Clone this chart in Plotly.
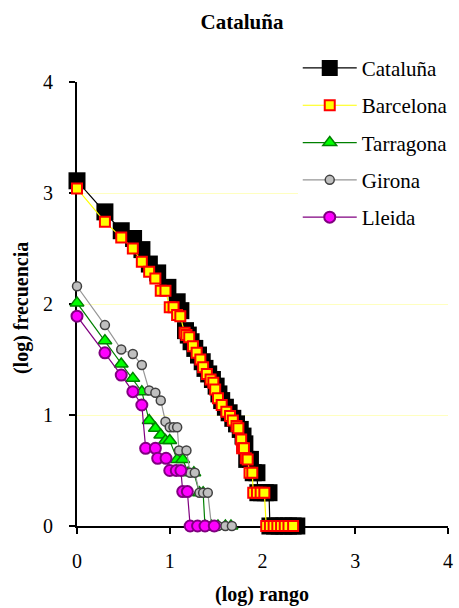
import plotly.graph_objects as go

# Rank-frequency data in log10 units: x = log(rank), y = log(frequency)
cat_x = [0, 0.301, 0.477, 0.61, 0.70, 0.78, 0.87, 0.98, 1.08, 1.12,
         1.17, 1.20, 1.23, 1.27, 1.31, 1.35, 1.38, 1.42, 1.46, 1.50,
         1.53, 1.56, 1.60, 1.64, 1.68, 1.72, 1.76, 1.79, 1.81, 1.83,
         1.87, 1.90, 1.94, 1.95, 1.99, 2.03, 2.07, 2.08, 2.13, 2.18,
         2.23, 2.28, 2.33, 2.37]
cat_y = [3.11, 2.83, 2.66, 2.59, 2.49, 2.36, 2.28, 2.15, 2.02, 1.94,
         1.76, 1.72, 1.66, 1.60, 1.54, 1.48, 1.42, 1.37, 1.32, 1.26,
         1.19, 1.13, 1.07, 1.02, 0.97, 0.92, 0.87, 0.81, 0.74, 0.60,
         0.60, 0.48, 0.48, 0.30, 0.30, 0.30, 0.30, 0, 0, 0,
         0, 0, 0, 0]

bcn_x = [0, 0.301, 0.477, 0.602, 0.699, 0.778, 0.845, 0.903, 0.954, 1.0,
         1.041, 1.079, 1.114, 1.16, 1.18, 1.21, 1.25, 1.29, 1.33, 1.36,
         1.40, 1.44, 1.47, 1.49, 1.52, 1.56, 1.61, 1.65, 1.68, 1.72,
         1.74, 1.77, 1.78, 1.80, 1.82, 1.84, 1.86, 1.89, 1.90, 1.94,
         1.98, 2.02, 2.04, 2.08, 2.12, 2.16, 2.20, 2.24, 2.28, 2.33]
bcn_y = [3.04, 2.74, 2.60, 2.50, 2.38, 2.29, 2.23, 2.12, 2.12, 1.97,
         1.97, 1.90, 1.89, 1.74, 1.72, 1.70, 1.62, 1.56, 1.50, 1.43,
         1.37, 1.32, 1.29, 1.23, 1.15, 1.09, 1.03, 0.99, 0.95, 0.90,
         0.88, 0.78, 0.70, 0.70, 0.61, 0.60, 0.48, 0.48, 0.30, 0.30,
         0.30, 0.30, 0, 0, 0, 0, 0, 0, 0, 0]

tar_x = [0, 0.301, 0.477, 0.602, 0.699, 0.778, 0.845, 0.903, 0.954, 1.0,
         1.08, 1.14, 1.20, 1.26, 1.32, 1.36, 1.38, 1.45, 1.52, 1.60, 1.66]
tar_y = [2.01, 1.67, 1.46, 1.33, 1.21, 0.95, 0.88, 0.82, 0.77, 0.77,
         0.60, 0.60, 0.48, 0.48, 0.30, 0.30, 0, 0, 0, 0, 0]

gir_x = [0, 0.301, 0.477, 0.602, 0.699, 0.778, 0.845, 0.903, 0.954, 1.0,
         1.04, 1.08, 1.10, 1.18, 1.22, 1.27, 1.32, 1.36, 1.41, 1.45,
         1.52, 1.60, 1.67]
gir_y = [2.16, 1.81, 1.59, 1.55, 1.45, 1.22, 1.20, 1.13, 0.94, 0.89,
         0.89, 0.89, 0.68, 0.68, 0.48, 0.48, 0.30, 0.30, 0.30, 0,
         0, 0, 0]

lle_x = [0, 0.301, 0.477, 0.602, 0.699, 0.74, 0.845, 0.87, 0.96, 1.0,
         1.07, 1.12, 1.14, 1.19, 1.22, 1.30, 1.38, 1.48]
lle_y = [1.89, 1.56, 1.36, 1.21, 1.09, 0.70, 0.70, 0.61, 0.61, 0.50,
         0.50, 0.50, 0.31, 0.31, 0, 0, 0, 0]

names = ["Cataluña", "Barcelona", "Tarragona", "Girona", "Lleida"]
xs = [cat_x, bcn_x, tar_x, gir_x, lle_x]
ys = [cat_y, bcn_y, tar_y, gir_y, lle_y]

styles = [
    dict(symbol="square", size=17, fill="#000000", edge="#000000", edge_w=0, line="#000000"),
    dict(symbol="square", size=10, fill="#FFFF00", edge="#FF0000", edge_w=2, line="#FFFF00"),
    dict(symbol="triangle-up", size=12, fill="#00FF00", edge="#008000", edge_w=1.5, line="#008000"),
    dict(symbol="circle", size=9, fill="#C0C0C0", edge="#404040", edge_w=1.5, line="#969696"),
    dict(symbol="circle", size=11, fill="#FF00FF", edge="#800080", edge_w=2, line="#800080"),
]

SERIF = "Liberation Serif, Times New Roman, DejaVu Serif, serif"

fig = go.Figure()
for i, (name, x, y, st) in enumerate(zip(names, xs, ys, styles)):
    fig.add_trace(go.Scatter(
        x=x, y=y, name=name, mode="lines+markers",
        legendgroup=str(i), cliponaxis=False,
        line=dict(color=st["line"], width=1.2),
        marker=dict(symbol=st["symbol"], size=st["size"], color=st["fill"],
                    line=dict(color=st["edge"], width=st["edge_w"])),
    ))

axis_common = dict(
    range=[0, 4], tickvals=[0, 1, 2, 3, 4],
    showline=True, linecolor="black", linewidth=2,
    ticks="outside", ticklen=6, tickwidth=2, tickcolor="black",
    zeroline=False, tickfont=dict(size=20, family=SERIF),
    layer="below traces",
)
fig.update_xaxes(**axis_common, showgrid=False, ticklabelstandoff=10)
fig.update_yaxes(**axis_common, showgrid=True, gridcolor="#FFFFC0", gridwidth=1,
                 ticklabelstandoff=12)

fig.update_layout(
    width=459, height=608,
    margin=dict(l=77, r=11, t=82, b=82, autoexpand=False),
    paper_bgcolor="white", plot_bgcolor="white",
    font=dict(family=SERIF, color="black", size=18),
    title=dict(text="<b>Cataluña</b>", x=242 / 459, xanchor="center",
               y=1 - 22 / 608, yanchor="middle", font=dict(size=21, family=SERIF)),
    legend=dict(x=0.595, y=1.077, xanchor="left", yanchor="top",
                bgcolor="white", font=dict(size=21, family=SERIF),
                tracegroupgap=7, itemwidth=54),
    annotations=[
        dict(text="<b>(log) rango</b>", xref="paper", yref="paper",
             x=0.4987, y=-0.155, xanchor="center", yanchor="middle",
             showarrow=False, font=dict(size=20, family=SERIF)),
        dict(text="<b>(log) frecuencia</b>", xref="paper", yref="paper",
             x=-0.148, y=0.491, xanchor="center", yanchor="middle",
             textangle=-90, showarrow=False, font=dict(size=20, family=SERIF)),
    ],
)

fig.write_html("out.html")
